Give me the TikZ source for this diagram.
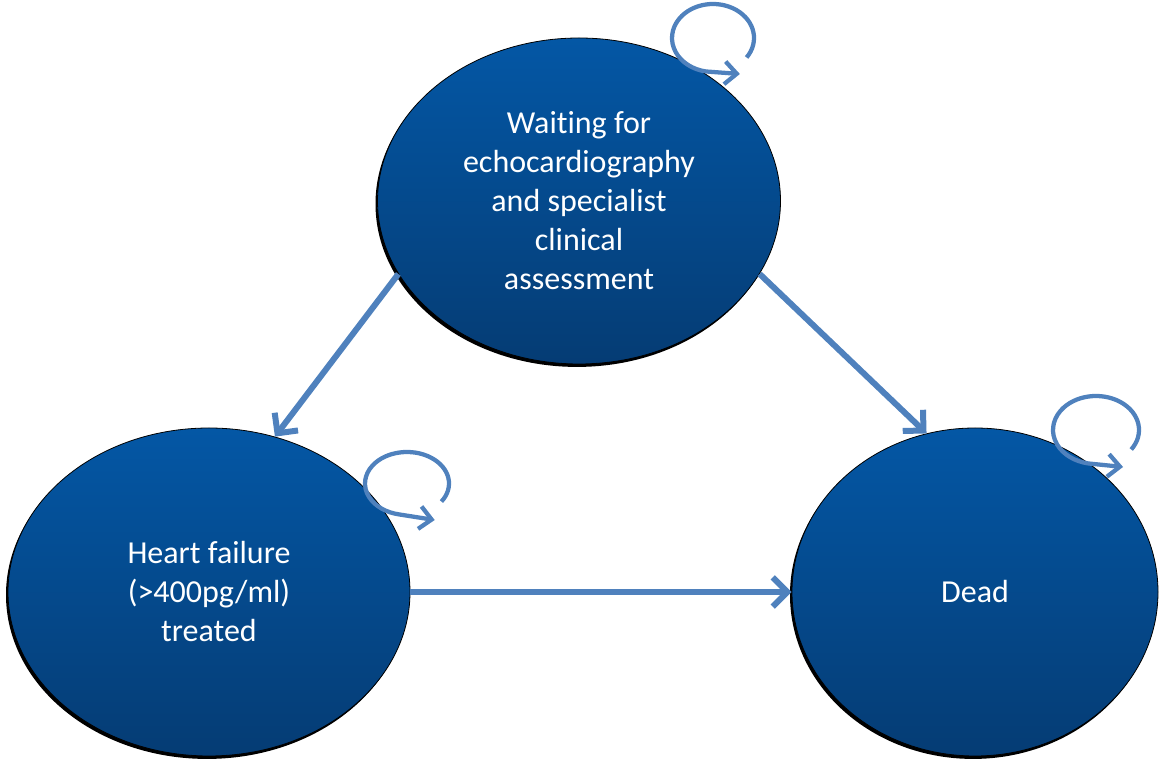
\documentclass[tikz,border=0pt]{standalone}
\usepackage{fontspec}
\setmainfont[Ligatures=NoCommon]{Carlito}
\usetikzlibrary{arrows.meta,shapes.geometric,shadows}
\definecolor{arrowblue}{HTML}{4F81BD}
\definecolor{topblue}{HTML}{0457A5}
\definecolor{botblue}{HTML}{053C74}
\tikzset{
 state/.style={ellipse, inner sep=0pt, top color=topblue, bottom color=botblue,
   draw=black, line width=0.6pt, text=white,
   font=\fontsize{24}{29.25}\selectfont, align=center,
   general shadow={fill=black, shadow xshift=-1.5pt, shadow yshift=-2.2pt}},
 conn/.style={draw=arrowblue, line width=4.5pt, -{Straight Barb[length=11pt,width=22pt]}},
 selfloop/.style={draw=arrowblue, line width=3.2pt, -{Straight Barb[length=9pt,width=17pt]}}
}
\begin{document}
\begin{tikzpicture}[x=0.75pt,y=0.75pt]
\useasboundingbox (0,0) rectangle (1160,767);
\node[state, minimum width=302.25pt, minimum height=244.5pt] (wait) at (579,566)
  {Waiting for\\echocardiography\\and specialist\\clinical\\assessment};
\node[state, minimum width=301.5pt, minimum height=246pt] (hf) at (209,175)
  {Heart failure\\(>400pg/ml)\\treated};
\node[state, minimum width=274.5pt, minimum height=246pt] (dead) at (975,175)
  {Dead};
\draw[conn] (wait.202) -- (hf.67);
\draw[conn] (wait.338) -- (dead.107);
\draw[conn] (hf.east) -- (dead.west);
\coordinate (lw) at (713,729);
\coordinate (lh) at (407,283.5);
\coordinate (ld) at (1096,337);
\draw[selfloop] (lw) ++(-35:41 and 34) arc[start angle=-35, end angle=260, x radius=41, y radius=34] -- ++(34,-2.5);
\draw[selfloop] (lh) ++(-35:42 and 31.5) arc[start angle=-35, end angle=260, x radius=42, y radius=31.5] -- ++(35,-5.5);
\draw[selfloop] (ld) ++(-35:43 and 34) arc[start angle=-35, end angle=260, x radius=43, y radius=34] -- ++(34.5,-3.5);
\end{tikzpicture}
\end{document}
